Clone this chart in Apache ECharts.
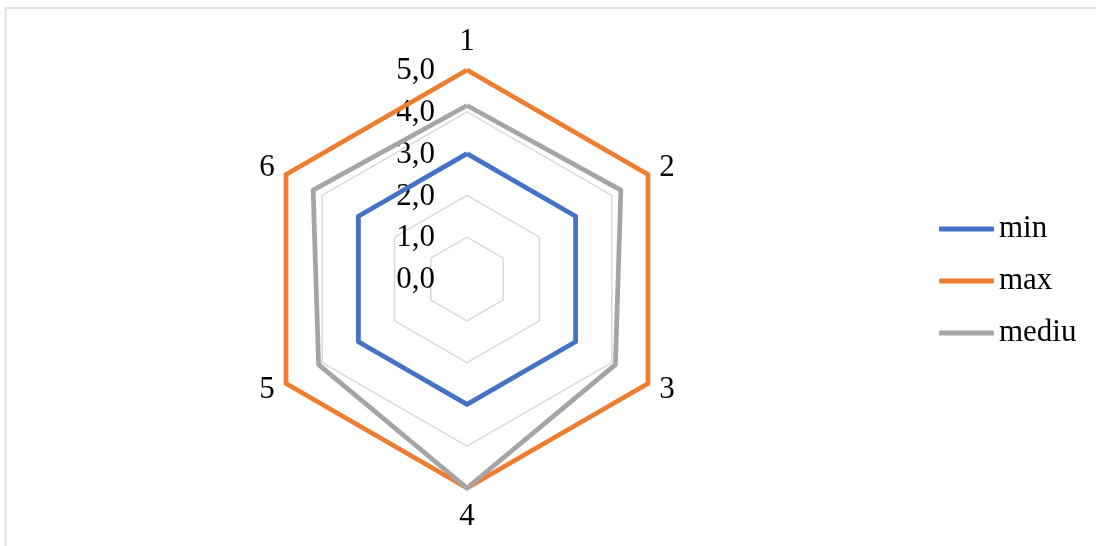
<!DOCTYPE html>
<html>
<head>
<meta charset="utf-8">
<script src="https://cdn.jsdelivr.net/npm/echarts@6/dist/echarts.min.js"></script>
<style>
  html, body { margin: 0; padding: 0; background: #fff; }
  #chart { width: 1096px; height: 546px; }
</style>
</head>
<body>
<div id="chart"></div>
<script>
// axes of the radar, in clockwise order starting at the top
var axisNames = ['1', '2', '3', '4', '5', '6'];
// series values
var minValues = [3, 3, 3, 3, 3, 3];
var maxValues = [5, 5, 5, 5, 5, 5];
var mediuValues = [4.15, 4.25, 4.1, 5, 4.1, 4.25];
var seriesNames = ['min', 'max', 'mediu'];
var seriesColors = ['#4472C4', '#ED7D31', '#A5A5A5'];
// scale
var scaleMin = 0;
var scaleMax = 5;
var scaleStep = 1;

var font = "'Liberation Serif', 'Times New Roman', serif";
var fontSize = 31;
var cx = 467, cy = 279, R = 209;

// echarts radar runs counter-clockwise, so keep the first axis and reverse the rest
function cw(arr) {
  return [arr[0]].concat(arr.slice(1).reverse());
}

var chart = echarts.init(document.getElementById('chart'));

var option = {
  backgroundColor: '#fff',
  animation: false,
  graphic: [{
    type: 'rect',
    shape: { x: 5.5, y: 8, width: 1200, height: 700 },
    style: { fill: 'none', stroke: '#d9d9d9', lineWidth: 1.5 },
    silent: true
  }],
  legend: {
    orient: 'vertical',
    left: 939,
    top: 213,
    padding: 0,
    itemWidth: 55,
    itemHeight: 5,
    itemGap: 20,
    icon: 'roundRect',
    data: seriesNames,
    textStyle: { fontFamily: font, fontSize: fontSize, color: '#000', lineHeight: 32 }
  },
  // hidden cartesian grid only used to place the scale labels beside axis 1
  grid: { left: cx, top: cy - R + 1, width: 10, height: R },
  xAxis: { type: 'value', show: false },
  yAxis: {
    type: 'value',
    min: scaleMin,
    max: scaleMax,
    interval: scaleStep,
    axisLine: { show: false },
    axisTick: { show: false },
    splitLine: { show: false },
    axisLabel: {
      margin: 32,
      fontFamily: font,
      fontSize: fontSize,
      color: '#000',
      formatter: function (v) { return v.toFixed(1).replace('.', ','); }
    }
  },
  radar: {
    center: [cx, cy],
    radius: R,
    shape: 'polygon',
    splitNumber: (scaleMax - scaleMin) / scaleStep,
    startAngle: 90,
    indicator: cw(axisNames).map(function (n) { return { name: n, min: scaleMin, max: scaleMax }; }),
    axisName: { color: '#000', fontFamily: font, fontSize: fontSize },
    nameGap: 13,
    axisLine: { show: false },
    axisTick: { show: false },
    axisLabel: { show: false },
    splitArea: { show: false },
    splitLine: { lineStyle: { color: '#d9d9d9', width: 1.5 } }
  },
  series: [{
    type: 'radar',
    symbol: 'none',
    data: [
      { name: seriesNames[0], value: cw(minValues), lineStyle: { color: seriesColors[0], width: 4.75 }, itemStyle: { color: seriesColors[0] } },
      { name: seriesNames[1], value: cw(maxValues), lineStyle: { color: seriesColors[1], width: 4.75 }, itemStyle: { color: seriesColors[1] } },
      { name: seriesNames[2], value: cw(mediuValues), lineStyle: { color: seriesColors[2], width: 4.75 }, itemStyle: { color: seriesColors[2] } }
    ]
  }]
};

chart.setOption(option);
</script>
</body>
</html>
